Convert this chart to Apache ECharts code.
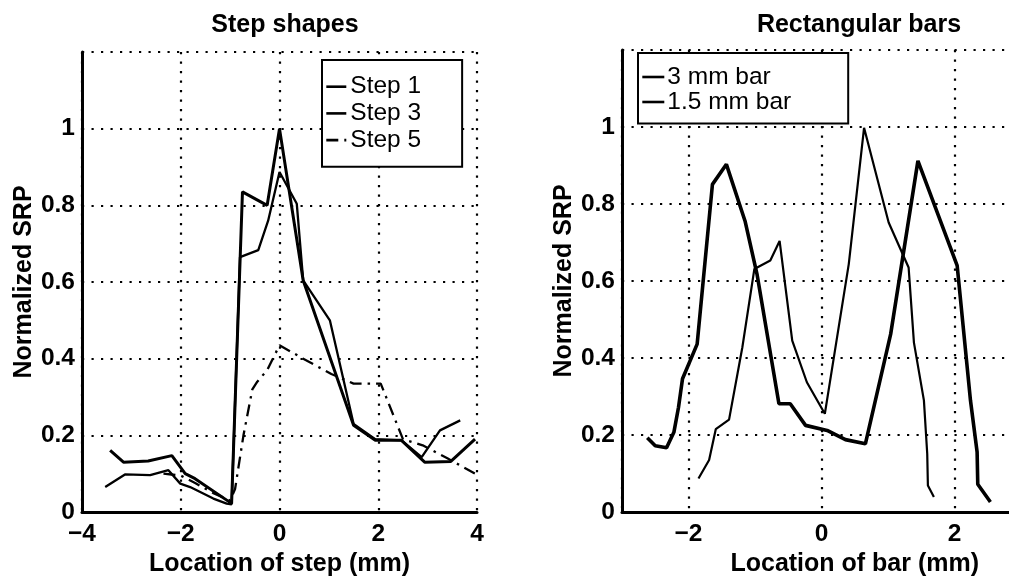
<!DOCTYPE html>
<html>
<head>
<meta charset="utf-8">
<script src="https://cdn.jsdelivr.net/npm/echarts@6/dist/echarts.min.js"></script>
<style>
html,body{margin:0;padding:0;background:#fff;}
#chart{width:1009px;height:577px;}
</style>
</head>
<body>
<div id="chart"></div>
<script>
// ---- Data: Step shapes ----
var step1X = [-3.43,-3.16,-2.66,-2.18,-1.91,-1.71,-1.07,-0.97,-0.75,-0.25,0.0,0.48,1.5,1.94,2.47,2.94,3.47,3.96];
var step1Y = [0.161,0.130,0.133,0.147,0.100,0.087,0.031,0.022,0.835,0.800,1.0,0.604,0.226,0.187,0.187,0.130,0.132,0.190];
var step3X = [-3.53,-3.13,-2.62,-2.25,-2.01,-1.81,-1.34,-1.07,-0.97,-0.80,-0.43,-0.23,0.0,0.35,0.48,1.02,1.5,1.94,2.47,2.88,3.25,3.66];
var step3Y = [0.065,0.098,0.096,0.109,0.074,0.065,0.035,0.022,0.020,0.665,0.683,0.760,0.887,0.804,0.604,0.500,0.230,0.190,0.187,0.143,0.213,0.239];
var step5X = [-2.35,-2.0,-1.7,-1.35,-1.0,-0.9,-0.73,-0.55,-0.45,-0.25,0.0,0.48,1.05,1.5,2.05,2.5,2.9,3.4,3.96];
var step5Y = [0.100,0.095,0.075,0.050,0.030,0.060,0.200,0.320,0.340,0.370,0.435,0.400,0.360,0.335,0.335,0.190,0.174,0.140,0.100];

// ---- Data: Rectangular bars ----
var bar3X = [-2.62,-2.50,-2.33,-2.22,-2.15,-2.09,-1.87,-1.64,-1.43,-1.15,-0.97,-0.64,-0.47,-0.24,0.085,0.36,0.66,1.04,1.45,2.04,2.24,2.34,2.35,2.54];
var bar3Y = [0.193,0.172,0.167,0.207,0.272,0.346,0.436,0.851,0.903,0.756,0.618,0.281,0.281,0.225,0.212,0.188,0.177,0.462,0.912,0.640,0.290,0.156,0.072,0.026];
var bar15X = [-1.85,-1.69,-1.59,-1.39,-1.19,-1.01,-0.77,-0.63,-0.44,-0.22,0.05,0.41,0.64,1.01,1.31,1.39,1.54,1.59,1.60,1.69];
var bar15Y = [0.087,0.135,0.215,0.240,0.428,0.631,0.653,0.704,0.445,0.337,0.255,0.644,0.998,0.752,0.635,0.440,0.290,0.151,0.069,0.039];

var titles = ['Step shapes', 'Rectangular bars'];
var xNames = ['Location of step (mm)', 'Location of bar (mm)'];
var yName = 'Normalized SRP';
var leftNames = ['Step 1', 'Step 3', 'Step 5'];
var rightNames = ['3 mm bar', '1.5 mm bar'];

function zip(xs, ys) { return xs.map(function (x, i) { return [x, ys[i]]; }); }

var FONT = "'Liberation Sans', Arial, Helvetica, sans-serif";
var FS = 24.5;
var dotted = { color: '#000', width: 2.2, type: [2.2, 7.3] };
var minusFmt = function (v) { return String(v).replace('-', '\u2212'); };

function xAxisCfg(gi, name, min, max, extra, labelExtra) {
  var lab = { color: '#000', fontFamily: FONT, fontWeight: 'bold', fontSize: FS, margin: 10, formatter: minusFmt };
  for (var j in labelExtra) lab[j] = labelExtra[j];
  var a = {
    gridIndex: gi, type: 'value', min: min, max: max,
    name: name, nameLocation: 'middle', nameGap: 34,
    nameTextStyle: { color: '#000', fontFamily: FONT, fontWeight: 'bold', fontSize: 25 },
    axisLine: { show: true, onZero: false, lineStyle: { color: '#000', width: 3 } },
    axisTick: { show: false },
    axisLabel: lab,
    splitLine: { show: true, lineStyle: dotted }
  };
  for (var k in extra) a[k] = extra[k];
  return a;
}
function yAxisCfg(gi) {
  return {
    gridIndex: gi, type: 'value', min: 0, max: 1.2, interval: 0.2,
    name: yName, nameLocation: 'middle', nameGap: 45,
    nameTextStyle: { color: '#000', fontFamily: FONT, fontWeight: 'bold', fontSize: 25 },
    axisLine: { show: true, onZero: false, lineStyle: { color: '#000', width: 3 } },
    axisTick: { show: false },
    axisLabel: { color: '#000', fontFamily: FONT, fontWeight: 'bold', fontSize: FS, margin: 7, showMaxLabel: false },
    splitLine: { show: true, lineStyle: dotted }
  };
}

function lineSeries(name, xi, data, width, type) {
  return {
    name: name, type: 'line', xAxisIndex: xi, yAxisIndex: xi,
    data: data, symbol: 'none', showSymbol: false, silent: true, animation: false,
    lineStyle: { color: '#000', width: width, type: type || 'solid' },
    itemStyle: { color: '#000' }
  };
}

var legendItemStyle = { color: 'transparent', borderColor: 'transparent', borderWidth: 0, opacity: 0 };

var chart = echarts.init(document.getElementById('chart'), null, { renderer: 'canvas' });
chart.setOption({
  backgroundColor: '#fff',
  animation: false,
  title: [
    { text: titles[0], left: 280, top: 8, textAlign: 'center',
      textStyle: { color: '#000', fontFamily: FONT, fontWeight: 'bold', fontSize: 25 } },
    { text: titles[1], left: 854, top: 8, textAlign: 'center',
      textStyle: { color: '#000', fontFamily: FONT, fontWeight: 'bold', fontSize: 25 } }
  ],
  grid: [
    { left: 82, top: 52, width: 395, height: 460, outerBoundsMode: 'none', containLabel: false },
    { left: 622, top: 50, width: 465.5, height: 462, outerBoundsMode: 'none', containLabel: false }
  ],
  xAxis: [
    xAxisCfg(0, xNames[0], -4, 4, { interval: 2 }, {}),
    xAxisCfg(1, xNames[1], -3, 4, { minInterval: 2, maxInterval: 2 }, { showMinLabel: false })
  ],
  yAxis: [yAxisCfg(0), yAxisCfg(1)],
  legend: [
    { data: leftNames, orient: 'vertical', left: 322, top: 60, selectedMode: false,
      itemWidth: 20, itemHeight: 14, itemGap: 1.7,
      padding: [14.2, 41, 14.2, 3], borderColor: '#000', borderWidth: 2, backgroundColor: '#fff',
      itemStyle: legendItemStyle, lineStyle: { width: 2.6 },
      textStyle: { color: '#000', fontFamily: FONT, fontSize: FS, lineHeight: 25, padding: [0, 0, 0, -1] } },
    { data: rightNames, orient: 'vertical', left: 638, top: 53, selectedMode: false,
      itemWidth: 22, itemHeight: 14, itemGap: 0,
      padding: [11.5, 57, 9.1, 3], borderColor: '#000', borderWidth: 2, backgroundColor: '#fff',
      itemStyle: legendItemStyle, lineStyle: { width: 2.6 },
      textStyle: { color: '#000', fontFamily: FONT, fontSize: FS, lineHeight: 25, padding: [0, 0, 0, -2] } }
  ],
  series: [
    lineSeries(leftNames[0], 0, zip(step1X, step1Y), 3),
    lineSeries(leftNames[1], 0, zip(step3X, step3Y), 2.3),
    lineSeries(leftNames[2], 0, zip(step5X, step5Y), 2.3, [12, 6, 2.5, 6]),
    lineSeries(rightNames[0], 1, zip(bar3X, bar3Y), 3.6),
    lineSeries(rightNames[1], 1, zip(bar15X, bar15Y), 2.2)
  ]
});
</script>
</body>
</html>
